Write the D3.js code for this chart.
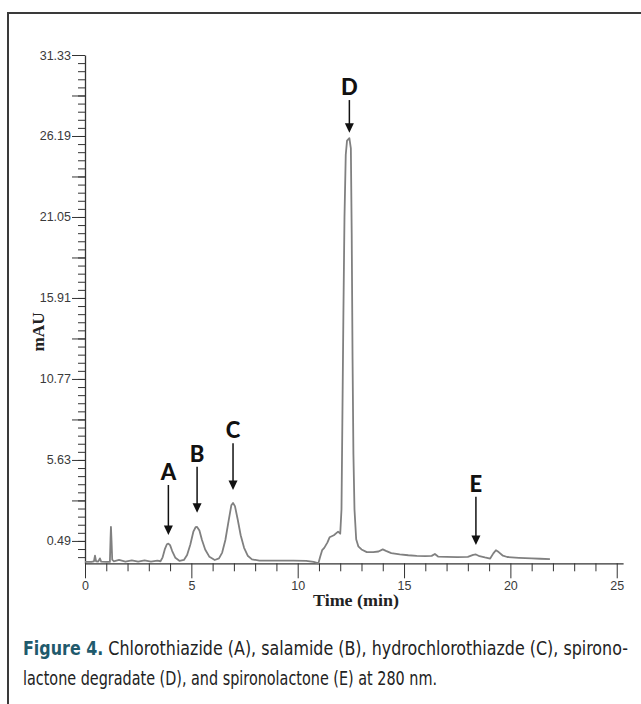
<!DOCTYPE html>
<html>
<head>
<meta charset="utf-8">
<script src="https://cdn.jsdelivr.net/npm/d3@7"></script>
<style>
  body { margin: 0; background: #fff; }
</style>
</head>
<body>
<div id="chart"></div>
<script>

// chromatogram trace (time in min, signal in mAU)
var times = [0.00, 0.30, 0.42, 0.47, 0.52, 0.62, 0.70, 0.76, 1.00, 1.17, 1.20, 1.22, 1.25, 1.28, 1.35,
    1.60, 1.90, 2.20, 2.50, 2.80, 3.10, 3.40, 3.55, 3.65, 3.75, 3.85, 3.92, 4.00, 4.10, 4.25,
    4.45, 4.65, 4.80, 4.95, 5.10, 5.20, 5.27, 5.38, 5.50, 5.65, 5.85, 6.10, 6.30, 6.45, 6.60,
    6.75, 6.88, 6.96, 7.05, 7.18, 7.32, 7.48, 7.65, 7.85, 8.20, 9.00, 9.80, 10.40, 10.75, 10.90,
    10.97, 11.05, 11.15, 11.25, 11.40, 11.50, 11.70, 11.90, 12.00, 12.06, 12.10, 12.15, 12.20, 12.26,
    12.32, 12.43, 12.50, 12.54, 12.58, 12.62, 12.67, 12.75, 12.85, 13.00, 13.25, 13.55, 13.80, 14.00,
    14.15, 14.40, 14.80, 15.20, 15.60, 16.00, 16.30, 16.45, 16.60, 17.00, 17.50, 18.00, 18.25, 18.38,
    18.55, 18.80, 19.05, 19.20, 19.32, 19.45, 19.65, 19.85, 20.40, 21.00, 21.40, 21.86];

var signal = [-0.84, -0.84, -0.80, -0.45, -0.80, -0.82, -0.62, -0.82, -0.84, -0.84, 0.60, 1.38, 0.40, -0.70, -0.80,
    -0.72, -0.82, -0.74, -0.83, -0.75, -0.83, -0.76, -0.80, -0.55, -0.05, 0.28, 0.32, 0.22, -0.15, -0.58,
    -0.78, -0.72, -0.40, 0.25, 1.10, 1.36, 1.38, 1.15, 0.55, -0.05, -0.52, -0.72, -0.62, -0.25, 0.55,
    1.75, 2.75, 2.90, 2.70, 1.85, 0.85, 0.05, -0.45, -0.68, -0.76, -0.76, -0.76, -0.78, -0.84, -0.90,
    -0.95, -0.55, -0.10, 0.05, 0.40, 0.72, 0.85, 1.08, 0.95, 2.50, 8.00, 15.00, 21.00, 25.00,
    25.90, 26.05, 25.40, 20.00, 12.00, 6.00, 2.50, 0.60, 0.15, -0.05, -0.22, -0.22, -0.18, -0.05,
    -0.14, -0.28, -0.36, -0.42, -0.46, -0.47, -0.46, -0.34, -0.50, -0.52, -0.54, -0.52, -0.40, -0.37,
    -0.48, -0.56, -0.63, -0.30, -0.10, -0.22, -0.45, -0.53, -0.58, -0.62, -0.64, -0.67];

// peak annotations
var peakLabels = ["A", "B", "C", "D", "E"];
var peakTimes = [3.92, 5.27, 6.96, 12.43, 18.38];
var arrowTips = [0.87, 2.28, 3.72, 26.40, 0.23];
var arrowTails = [4.04, 5.20, 6.69, 28.47, 3.30];

// axis ticks
var yTickValues = [0.49, 5.63, 10.77, 15.91, 21.05, 26.19, 31.33];
var yTickLabels = ["0.49", "5.63", "10.77", "15.91", "21.05", "26.19", "31.33"];
var xTickValues = [0, 5, 10, 15, 20, 25];
var xTickLabels = ["0", "5", "10", "15", "20", "25"];

var captionBold = "Figure 4.";
var captionLine1 = "Chlorothiazide (A), salamide (B), hydrochlorothiazde (C), spirono-";
var captionLine2 = "lactone degradate (D), and spironolactone (E) at 280 nm.";

var trace = times.map(function(t, i) { return { t: t, v: signal[i] }; });

var svgWidth = 641;
var svgHeight = 704;

var svg = d3.select("#chart")
    .append("svg")
    .attr("width", svgWidth)
    .attr("height", svgHeight);

// figure frame (only top and left edges are visible)
svg.append("path")
    .attr("d", "M8," + svgHeight + " V13 H" + svgWidth)
    .attr("fill", "none")
    .attr("stroke", "#3a3a3a")
    .attr("stroke-width", 2);

// scales
var x = d3.scaleLinear().domain([0, 25.3]).range([85, 623.1]);
var y = d3.scaleLinear().domain([-0.93, 31.33]).range([563.3, 55]);

var axisColor = "#333";

// y axis: minor, half and labelled ticks
var yMinor = d3.range(-0.538, 31.4, 0.514).filter(function(v) { return v < 31.34; });
svg.append("g")
    .attr("transform", "translate(85,0)")
    .call(d3.axisLeft(y).tickValues(yMinor).tickSize(7).tickSizeOuter(0).tickFormat(""))
    .call(function(g) { g.select(".domain").remove(); });

var yHalf = yTickValues.slice(0, -1).map(function(v) { return v + 2.57; });
svg.append("g")
    .attr("transform", "translate(85,0)")
    .call(d3.axisLeft(y).tickValues(yHalf).tickSize(13).tickSizeOuter(0).tickFormat(""))
    .call(function(g) { g.select(".domain").remove(); });

var yAxis = svg.append("g")
    .attr("transform", "translate(85,0)")
    .call(d3.axisLeft(y)
        .tickValues(yTickValues)
        .tickSize(13)
        .tickSizeOuter(0)
        .tickPadding(1)
        .tickFormat(function(d, i) { return yTickLabels[i]; }));

// x axis: minor ticks every minute, labelled ticks every 5
svg.append("g")
    .attr("transform", "translate(0," + y(-0.93) + ")")
    .call(d3.axisBottom(x)
        .tickValues(d3.range(0, 26).filter(function(d) { return d % 5 !== 0; }))
        .tickSize(8).tickSizeOuter(0).tickFormat(""))
    .call(function(g) { g.select(".domain").remove(); });

var xAxis = svg.append("g")
    .attr("transform", "translate(0," + y(-0.93) + ")")
    .call(d3.axisBottom(x)
        .tickValues(xTickValues)
        .tickSize(15)
        .tickSizeOuter(0)
        .tickPadding(3)
        .tickFormat(function(d, i) { return xTickLabels[i]; }));

svg.selectAll(".tick line").attr("stroke", axisColor);
svg.selectAll(".domain").attr("stroke", axisColor).attr("stroke-width", 1.3);
svg.selectAll(".tick text")
    .attr("font-family", "'Liberation Sans', Arial, sans-serif")
    .attr("font-size", 12.5)
    .attr("fill", "#3a3a3a");

// axis titles
svg.append("text")
    .attr("x", 356)
    .attr("y", 606)
    .attr("text-anchor", "middle")
    .attr("font-family", "'Liberation Serif', 'Times New Roman', serif")
    .attr("font-weight", "bold")
    .attr("font-size", 17)
    .attr("textLength", 86)
    .attr("lengthAdjust", "spacingAndGlyphs")
    .attr("fill", "#222")
    .text("Time (min)");

svg.append("text")
    .attr("transform", "translate(44,332) rotate(-90)")
    .attr("text-anchor", "middle")
    .attr("font-family", "'Liberation Serif', 'Times New Roman', serif")
    .attr("font-weight", "bold")
    .attr("font-size", 16)
    .attr("textLength", 39)
    .attr("lengthAdjust", "spacingAndGlyphs")
    .attr("fill", "#222")
    .text("mAU");

// trace
var line = d3.line()
    .x(function(d) { return x(d.t); })
    .y(function(d) { return y(d.v); });

svg.append("path")
    .datum(trace)
    .attr("d", line)
    .attr("fill", "none")
    .attr("stroke", "#808080")
    .attr("stroke-width", 1.8)
    .attr("stroke-linejoin", "round");

// arrows and peak letters
var arrows = svg.append("g");
peakLabels.forEach(function(label, i) {
    var ax = x(peakTimes[i]);
    var tipY = y(arrowTips[i]);
    var tailY = y(arrowTails[i]);

    arrows.append("line")
        .attr("x1", ax).attr("x2", ax)
        .attr("y1", tailY).attr("y2", tipY - 8)
        .attr("stroke", "#111")
        .attr("stroke-width", 1.5);

    arrows.append("path")
        .attr("d", "M" + (ax - 4.5) + "," + (tipY - 9.5) + " L" + (ax + 4.5) + "," + (tipY - 9.5) + " L" + ax + "," + tipY + " Z")
        .attr("fill", "#111");

    arrows.append("text")
        .attr("x", ax)
        .attr("y", tailY - 5)
        .attr("text-anchor", "middle")
        .attr("font-family", "Lato, 'Open Sans', sans-serif")
        .attr("font-weight", "900")
        .attr("font-size", 22)
        .attr("fill", "#111")
        .text(label);
});

// caption: condensed face, stretched vertically to match the tall narrow print type
var captionFont = "'DejaVu Sans Condensed', 'Liberation Sans Narrow', sans-serif";

var cap1 = svg.append("g")
    .attr("transform", "translate(23,655) scale(1,1.25)")
    .append("text")
    .attr("font-family", captionFont)
    .attr("font-size", 15)
    .attr("textLength", 605)
    .attr("lengthAdjust", "spacingAndGlyphs")
    .attr("fill", "#222");
cap1.append("tspan")
    .attr("font-weight", "bold")
    .attr("fill", "#1f5a6c")
    .text(captionBold);
cap1.append("tspan")
    .text(" " + captionLine1);

svg.append("g")
    .attr("transform", "translate(23,685) scale(1,1.25)")
    .append("text")
    .attr("font-family", captionFont)
    .attr("font-size", 15)
    .attr("textLength", 414)
    .attr("lengthAdjust", "spacingAndGlyphs")
    .attr("fill", "#222")
    .text(captionLine2);

</script>
</body>
</html>
